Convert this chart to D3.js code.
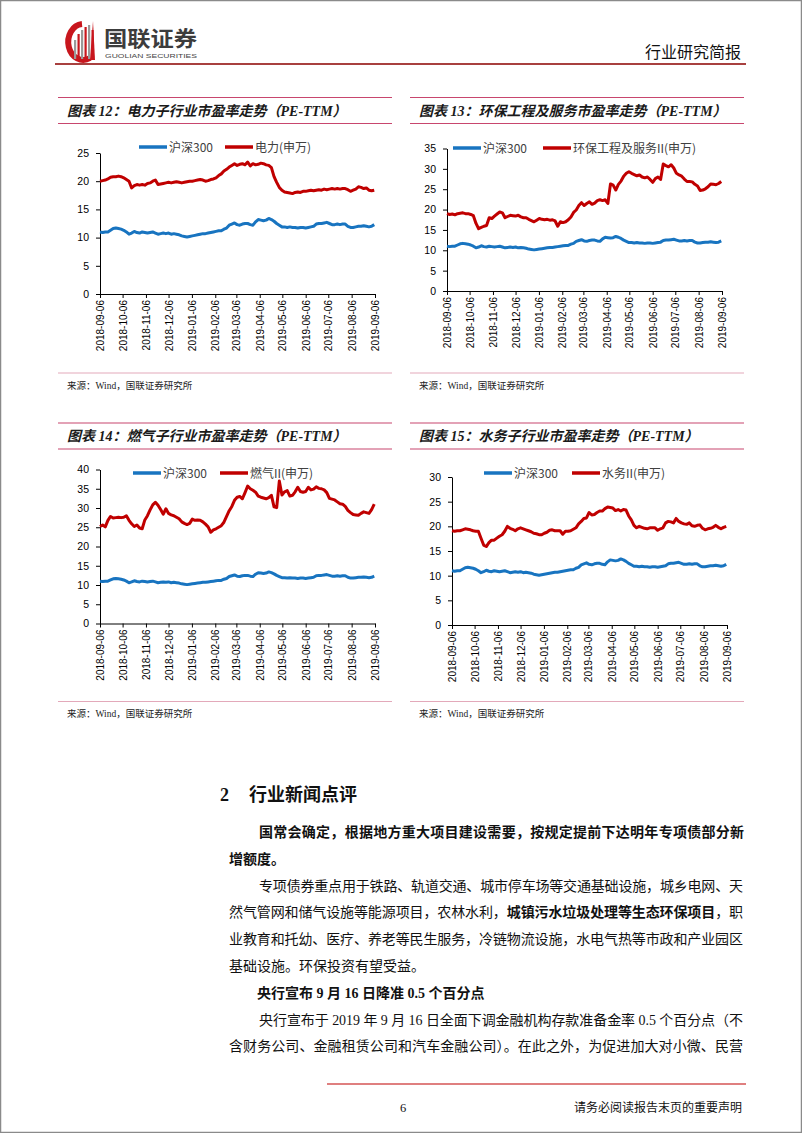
<!DOCTYPE html>
<html><head><meta charset="utf-8">
<script src="https://cdn.jsdelivr.net/npm/d3@7"></script>
<style>
body{margin:0;background:#fff}
svg{display:block}
.tick line{stroke:#000}
.domain{stroke:#000}
</style>
</head><body>
<svg id="page" width="802" height="1133"></svg>
<script>
// ---------------- DATA ----------------
const monthTicks = ["2018-09-06","2018-10-06","2018-11-06","2018-12-06","2019-01-06","2019-02-06","2019-03-06","2019-04-06","2019-05-06","2019-06-06","2019-07-06","2019-08-06","2019-09-06"];

// PE-TTM sampled about twice a week from 2018-09-06 to 2019-09-06
const hs300 = [
11.0,10.9,11.0,11.0,11.3,11.6,11.7,11.6,11.5,11.3,
11.0,10.6,10.8,11.1,10.9,10.8,11.0,10.9,10.8,10.9,
11.0,10.8,10.6,10.7,10.8,10.7,10.8,10.6,10.7,10.6,
10.5,10.3,10.2,10.1,10.2,10.3,10.4,10.5,10.6,10.7,
10.7,10.8,10.9,11.0,11.1,11.2,11.2,11.5,11.7,12.2,
12.4,12.6,12.3,12.2,12.4,12.5,12.5,12.3,12.2,12.8,
13.2,13.1,13.0,13.1,13.4,13.2,12.9,12.5,12.2,11.9,
11.9,11.8,11.9,11.8,11.8,11.7,11.8,11.8,11.7,11.8,
11.9,12.0,12.4,12.5,12.5,12.6,12.7,12.5,12.3,12.3,
12.4,12.3,12.4,12.4,12.0,11.8,11.8,11.9,12.0,12.0,
12.1,12.0,11.9,12.0,12.3];

const power = [
20.0,20.1,20.2,20.4,20.7,20.8,20.8,20.9,20.8,20.6,
20.3,20.0,18.8,19.2,19.4,19.3,19.4,19.3,19.6,19.7,
20.0,20.2,19.4,19.5,19.6,19.7,19.8,19.7,19.8,19.9,
19.8,19.7,19.8,19.9,20.0,20.0,20.1,20.2,20.3,20.2,
20.0,20.1,20.3,20.4,20.6,21.0,21.3,21.8,22.1,22.5,
22.8,23.1,22.8,23.0,23.1,22.9,23.4,22.7,23.1,22.9,
23.0,23.2,23.1,22.9,22.8,22.4,20.8,19.8,18.9,18.4,
18.1,18.0,17.9,17.8,18.0,18.1,18.0,18.2,18.2,18.3,
18.4,18.3,18.4,18.5,18.4,18.6,18.5,18.6,18.7,18.6,
18.7,18.6,18.7,18.7,18.5,18.2,18.4,18.6,19.0,18.9,
18.7,18.8,18.4,18.3,18.4];

const envir = [
19.0,18.8,18.9,18.7,19.0,19.1,19.2,19.0,19.0,18.8,
18.5,16.6,15.3,15.6,15.9,16.1,18.0,17.8,18.4,18.9,
19.4,19.2,18.0,18.3,18.6,18.5,18.4,18.6,18.2,18.0,
18.0,17.6,17.3,17.0,17.4,17.8,17.6,17.5,17.6,17.4,
17.5,17.2,15.9,17.0,16.8,17.0,17.5,18.2,19.3,19.9,
21.0,21.7,21.0,21.5,21.9,21.3,21.6,22.2,22.4,22.2,
22.4,21.5,26.3,26.0,24.8,26.2,27.0,28.2,28.9,29.3,
28.9,28.6,28.3,28.5,28.0,27.8,28.0,27.4,26.7,27.6,
28.0,27.4,31.2,30.8,30.5,31.0,30.2,28.9,28.5,28.2,
27.5,26.9,26.9,26.8,26.2,25.8,24.7,24.8,25.1,25.6,
26.3,26.2,26.1,26.4,26.9];

const gas = [
25.2,25.6,25.1,26.8,27.8,27.4,27.5,27.6,27.5,27.6,
28.0,26.8,25.9,25.2,25.6,24.8,24.6,26.9,28.0,29.5,
30.8,31.5,30.7,29.6,28.4,29.8,28.6,28.2,28.0,27.6,
27.2,26.4,26.0,25.7,26.0,27.1,26.8,26.9,26.8,26.4,
25.8,25.1,23.7,24.3,24.6,25.0,25.4,26.3,27.8,29.3,
30.4,32.0,32.8,33.0,32.4,34.0,35.7,35.0,34.6,34.1,
33.1,32.8,32.6,32.4,32.7,33.3,30.3,30.1,37.0,33.4,
34.2,34.5,33.1,33.3,34.2,35.4,34.3,34.1,34.3,35.4,
34.7,34.9,35.5,35.1,35.0,34.7,34.0,32.5,32.3,32.1,
31.6,31.1,31.0,30.4,29.4,28.8,28.3,28.2,28.1,28.6,
29.0,28.8,28.6,29.6,31.0];

const water = [
19.1,19.0,19.1,19.1,19.3,19.5,19.4,19.3,19.1,19.0,
19.0,17.6,16.2,15.9,16.7,17.2,17.2,17.6,18.0,18.3,
19.0,20.0,19.6,19.4,19.1,19.5,19.7,19.5,19.3,19.1,
18.9,18.6,18.5,18.3,18.3,18.6,18.8,19.2,19.3,19.1,
19.1,19.1,18.4,19.0,19.0,19.1,19.4,19.7,20.5,21.0,
21.6,21.7,22.8,22.3,22.4,22.8,23.1,23.1,23.6,23.9,
23.8,23.7,23.2,23.4,23.1,23.4,23.3,22.1,21.3,20.2,
19.7,20.0,19.8,19.6,19.5,19.7,19.7,19.7,19.2,19.5,
19.7,20.7,21.0,20.9,20.7,21.6,21.0,20.7,20.5,20.4,
20.7,20.1,20.0,20.2,20.3,19.6,19.3,19.5,19.6,19.8,
20.2,19.8,19.5,19.8,20.0];

const yTicks12 = [0,5,10,15,20,25];
const yTicks13 = [0,5,10,15,20,25,30,35];
const yTicks14 = [0,5,10,15,20,25,30,35,40];
const yTicks15 = [0,5,10,15,20,25,30];

const titles = ["图表 12：电力子行业市盈率走势（PE-TTM）","图表 13：环保工程及服务市盈率走势（PE-TTM）","图表 14：燃气子行业市盈率走势（PE-TTM）","图表 15：水务子行业市盈率走势（PE-TTM）"];
const benchName = "沪深300";
const sectorNames = ["电力(申万)","环保工程及服务II(申万)","燃气II(申万)","水务II(申万)"];
const sourceText = "来源：Wind，国联证券研究所";

// ---------------- PAGE ----------------
const svg = d3.select("#page");
const BLUE = "#1874C0", RED = "#C00000";
const parse = d3.timeParse("%Y-%m-%d");
const tickDates = monthTicks.map(parse);
const startDate = tickDates[0], endDate = tickDates[tickDates.length - 1];
const sampleDates = hs300.map((_, i) => d3.timeHour.offset(startDate, i * 84));

// page frame
svg.append("rect").attr("x",0.5).attr("y",0.5).attr("width",801).attr("height",1132)
  .attr("fill","none").attr("stroke","#8a8a8a").attr("stroke-width",1.5);

// header logo
const logo = svg.append("g");
logo.append("path").attr("d","M82,24 A15,18 0 1,0 90,58").attr("fill","none").attr("stroke","#C8161D").attr("stroke-width",6);
[[74,40],[77.5,34],[81,30],[84.5,27],[88,25],[91.5,30]].forEach((b,i)=>{
  logo.append("rect").attr("x",b[0]).attr("y",b[1]).attr("width",2.2).attr("height",59-b[1])
    .attr("fill", i%2 ? "#C8161D" : "#9a9a9a");
});
logo.append("path").attr("d","M90,60 L93,21 L95,60 Z").attr("fill","#C8161D");
svg.append("text").attr("x",104).attr("y",46).attr("font-family","Noto Sans CJK SC").attr("font-weight","bold")
  .attr("font-size",21).attr("fill","#3c3c3c").attr("textLength",93).attr("lengthAdjust","spacingAndGlyphs").text("国联证券");
svg.append("text").attr("x",105).attr("y",58).attr("font-family","Liberation Sans").attr("font-size",6)
  .attr("fill","#444").attr("textLength",92).attr("lengthAdjust","spacingAndGlyphs").text("GUOLIAN SECURITIES");
svg.append("text").attr("x",741).attr("y",58).attr("text-anchor","end").attr("font-family","Noto Sans CJK SC")
  .attr("font-size",16).attr("fill","#111").text("行业研究简报");
svg.append("line").attr("x1",55).attr("x2",746).attr("y1",64).attr("y2",64).attr("stroke","#A8403F").attr("stroke-width",1.8);

// ---------------- CHARTS ----------------
const charts = [
  {title:titles[0], sector:power, name:sectorNames[0], ymax:25, yTicks:yTicks12,
   bx0:58, bx1:392, by:97.5, x0:100, x1:375, yt:153, yb:294, lx:139, ly:147, lsep:86, sy:373},
  {title:titles[1], sector:envir, name:sectorNames[1], ymax:35, yTicks:yTicks13,
   bx0:410, bx1:744, by:97.5, x0:447, x1:722, yt:148.5, yb:291, lx:453, ly:148, lsep:90, sy:373},
  {title:titles[2], sector:gas, name:sectorNames[2], ymax:40, yTicks:yTicks14,
   bx0:58, bx1:392, by:423, x0:100, x1:375, yt:469.5, yb:623.5, lx:133, ly:473, lsep:87, sy:701.5},
  {title:titles[3], sector:water, name:sectorNames[3], ymax:30, yTicks:yTicks15,
   bx0:410, bx1:744, by:423, x0:452, x1:727, yt:477, yb:625, lx:484, ly:473, lsep:88, sy:701.5}
];

function drawChart(c){
  const g = svg.append("g");
  // title box
  [c.by, c.by+26].forEach(yy => g.append("line").attr("x1",c.bx0).attr("x2",c.bx1).attr("y1",yy).attr("y2",yy)
    .attr("stroke","#C8466E").attr("stroke-width",1.2));
  g.append("text").attr("x",c.bx0+9).attr("y",c.by+18).attr("font-family","Liberation Serif, Noto Sans CJK SC")
    .attr("font-style","italic").attr("font-weight","bold").attr("font-size",14).attr("fill","#1a1a1a").text(c.title);

  const x = d3.scaleTime().domain([startDate, endDate]).range([c.x0, c.x1]);
  const y = d3.scaleLinear().domain([0, c.ymax]).range([c.yb, c.yt]);

  const ya = g.append("g").attr("transform",`translate(${c.x0},0)`)
    .call(d3.axisLeft(y).tickValues(c.yTicks).tickSize(4).tickSizeOuter(0).tickPadding(7));
  ya.selectAll("text").attr("font-family","Liberation Sans").attr("font-size",10.5).attr("fill","#000");

  const xa = g.append("g").attr("transform",`translate(0,${c.yb})`)
    .call(d3.axisBottom(x).tickValues(tickDates).tickFormat(d3.timeFormat("%Y-%m-%d")).tickSize(4).tickSizeOuter(0));
  xa.selectAll("text").attr("transform","rotate(-90)").attr("text-anchor","end")
    .attr("x",-6).attr("y",0).attr("dy","0.35em")
    .attr("font-family","Liberation Sans").attr("font-size",10).attr("fill","#000");

  const line = d3.line().x((d,i)=>x(sampleDates[i])).y(d=>y(d)).curve(d3.curveLinear);
  g.append("path").datum(hs300).attr("d",line).attr("fill","none").attr("stroke",BLUE)
    .attr("stroke-width",3).attr("stroke-linejoin","round");
  g.append("path").datum(c.sector).attr("d",line).attr("fill","none").attr("stroke",RED)
    .attr("stroke-width",3).attr("stroke-linejoin","round");

  // legend
  const lg = g.append("g").attr("font-family","Noto Sans CJK SC").attr("font-size",12).attr("fill","#404040");
  lg.append("line").attr("x1",c.lx).attr("x2",c.lx+28).attr("y1",c.ly).attr("y2",c.ly).attr("stroke",BLUE).attr("stroke-width",3.5);
  lg.append("text").attr("x",c.lx+30).attr("y",c.ly+4.5).text(benchName);
  lg.append("line").attr("x1",c.lx+c.lsep).attr("x2",c.lx+c.lsep+28).attr("y1",c.ly).attr("y2",c.ly).attr("stroke",RED).attr("stroke-width",3.5);
  lg.append("text").attr("x",c.lx+c.lsep+30).attr("y",c.ly+4.5).text(c.name);

  // source
  g.append("line").attr("x1",c.bx0).attr("x2",c.bx1).attr("y1",c.sy).attr("y2",c.sy).attr("stroke","#E3A9BA").attr("stroke-width",1);
  g.append("text").attr("x",c.bx0+9).attr("y",c.sy+15.5).attr("font-family","Liberation Serif, Noto Sans CJK SC")
    .attr("font-size",9.5).attr("fill","#222").text(sourceText);
}
charts.forEach(drawChart);

// ---------------- BODY TEXT ----------------
const BODY_FONT = "Liberation Serif, Noto Sans CJK SC";
svg.append("text").attr("x",220).attr("y",801).attr("font-family",BODY_FONT).attr("font-weight","bold")
  .attr("font-size",18).attr("fill","#111").text("2");
svg.append("text").attr("x",249).attr("y",801).attr("font-family","Noto Sans CJK SC").attr("font-weight","bold")
  .attr("font-size",18).attr("fill","#111").text("行业新闻点评");

function bodyLine(segs, x0, x1, yb){
  const n = segs.reduce((s,d)=>s+d.t.length,0);
  if (x1 === null){
    const t = svg.append("text").attr("x",x0).attr("y",yb).attr("font-family",BODY_FONT).attr("font-size",14).attr("fill","#111");
    segs.forEach(s=>t.append("tspan").attr("font-weight",s.b?"bold":"normal").text(s.t));
    return;
  }
  if (segs.length === 1){
    svg.append("text").attr("x",x0).attr("y",yb).attr("font-family",BODY_FONT).attr("font-size",14).attr("fill","#111")
      .attr("font-weight",segs[0].b?"bold":"normal").attr("textLength",x1-x0).attr("lengthAdjust","spacing").text(segs[0].t);
    return;
  }
  const adv = (x1-x0)/n;
  let cum = 0;
  segs.forEach(s=>{
    svg.append("text").attr("x",x0+cum*adv).attr("y",yb).attr("font-family",BODY_FONT).attr("font-size",14).attr("fill","#111")
      .attr("font-weight",s.b?"bold":"normal").attr("textLength",s.t.length*adv).attr("lengthAdjust","spacing").text(s.t);
    cum += s.t.length;
  });
}
const LH = 26.8, B0 = 837;
bodyLine([{t:"国常会确定，根据地方重大项目建设需要，按规定提前下达明年专项债部分新",b:true}],259,744,B0);
bodyLine([{t:"增额度。",b:true}],229,null,B0+LH);
bodyLine([{t:"专项债券重点用于铁路、轨道交通、城市停车场等交通基础设施，城乡电网、天",b:false}],259,743,B0+2*LH);
bodyLine([{t:"然气管网和储气设施等能源项目，农林水利，",b:false},{t:"城镇污水垃圾处理等生态环保项目",b:true},{t:"，职",b:false}],229,743,B0+3*LH);
bodyLine([{t:"业教育和托幼、医疗、养老等民生服务，冷链物流设施，水电气热等市政和产业园区",b:false}],229,743,B0+4*LH);
bodyLine([{t:"基础设施。环保投资有望受益。",b:false}],229,null,B0+5*LH);
bodyLine([{t:"央行宣布 9 月 16 日降准 0.5 个百分点",b:true}],257,null,B0+6*LH);
bodyLine([{t:"央行宣布于 2019 年 9 月 16 日全面下调金融机构存款准备金率 0.5 个百分点（不",b:false}],259,743,B0+7*LH);
bodyLine([{t:"含财务公司、金融租赁公司和汽车金融公司）。在此之外，为促进加大对小微、民营",b:false}],229,743,B0+8*LH);

// footer
svg.append("line").attr("x1",327).attr("x2",746).attr("y1",1084).attr("y2",1084).attr("stroke","#C00000").attr("stroke-width",1.2);
svg.append("text").attr("x",400).attr("y",1112).attr("font-family",BODY_FONT).attr("font-size",12.5).attr("fill","#111").text("6");
svg.append("text").attr("x",742).attr("y",1112).attr("text-anchor","end").attr("font-family",BODY_FONT)
  .attr("font-size",12).attr("fill","#111").text("请务必阅读报告末页的重要声明");
</script>
</body></html>
